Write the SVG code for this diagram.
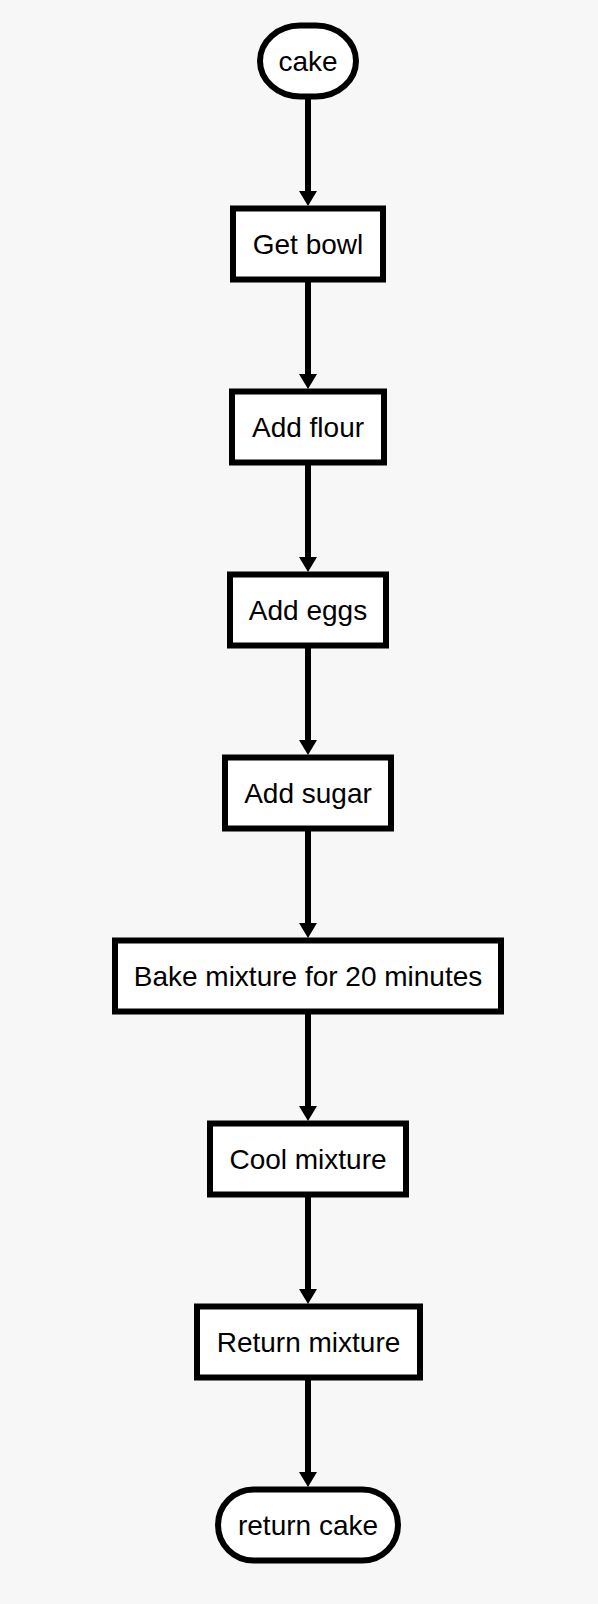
<svg xmlns="http://www.w3.org/2000/svg" width="598" height="1604" viewBox="0 0 598 1604">
<style>
.box{fill:#ffffff;stroke:#000000;stroke-width:6}
.lbl{font-family:"Liberation Sans",Arial,Helvetica,sans-serif;font-size:28px;fill:#000000;text-anchor:middle}
.edge{stroke:#000000;stroke-width:6;fill:none}
</style>
<defs>
<marker id="arr" viewBox="0 0 15 18" refX="0" refY="9" markerWidth="15" markerHeight="18" orient="auto" markerUnits="userSpaceOnUse">
<path d="M0,0 L15,9 L0,18 Z" fill="#000000"/>
</marker>
</defs>
<rect x="0" y="0" width="598" height="1604" fill="#f7f7f7"/>
<g id="connectors">
<line class="edge" x1="308" y1="99" x2="308" y2="191" marker-end="url(#arr)"/>
<line class="edge" x1="308" y1="282" x2="308" y2="374" marker-end="url(#arr)"/>
<line class="edge" x1="308" y1="465" x2="308" y2="557" marker-end="url(#arr)"/>
<line class="edge" x1="308" y1="648" x2="308" y2="740" marker-end="url(#arr)"/>
<line class="edge" x1="308" y1="831" x2="308" y2="923" marker-end="url(#arr)"/>
<line class="edge" x1="308" y1="1014" x2="308" y2="1106" marker-end="url(#arr)"/>
<line class="edge" x1="308" y1="1197" x2="308" y2="1289" marker-end="url(#arr)"/>
<line class="edge" x1="308" y1="1380" x2="308" y2="1472" marker-end="url(#arr)"/>
</g>
<g id="n-cake">
<rect class="box" x="260" y="25.5" width="96" height="71" rx="40" ry="35.5"/>
<text class="lbl" x="308" y="70.5">cake</text>
</g>
<g id="n-getbowl">
<rect class="box" x="233" y="208.5" width="150" height="71"/>
<text class="lbl" x="308" y="253.5">Get bowl</text>
</g>
<g id="n-flour">
<rect class="box" x="232" y="391.5" width="152" height="71"/>
<text class="lbl" x="308" y="436.5">Add flour</text>
</g>
<g id="n-eggs">
<rect class="box" x="230" y="574.5" width="156" height="71"/>
<text class="lbl" x="308" y="619.5">Add eggs</text>
</g>
<g id="n-sugar">
<rect class="box" x="225" y="757.5" width="166" height="71"/>
<text class="lbl" x="308" y="802.5">Add sugar</text>
</g>
<g id="n-bake">
<rect class="box" x="115" y="940.5" width="386" height="71"/>
<text class="lbl" x="308" y="985.5">Bake mixture for 20 minutes</text>
</g>
<g id="n-cool">
<rect class="box" x="210" y="1123.5" width="196" height="71"/>
<text class="lbl" x="308" y="1168.5">Cool mixture</text>
</g>
<g id="n-return">
<rect class="box" x="197" y="1306.5" width="223" height="71"/>
<text class="lbl" x="308.5" y="1351.5">Return mixture</text>
</g>
<g id="n-returncake">
<rect class="box" x="218" y="1489.5" width="180" height="71" rx="35.5" ry="35.5"/>
<text class="lbl" x="308" y="1534.5">return cake</text>
</g>
</svg>
